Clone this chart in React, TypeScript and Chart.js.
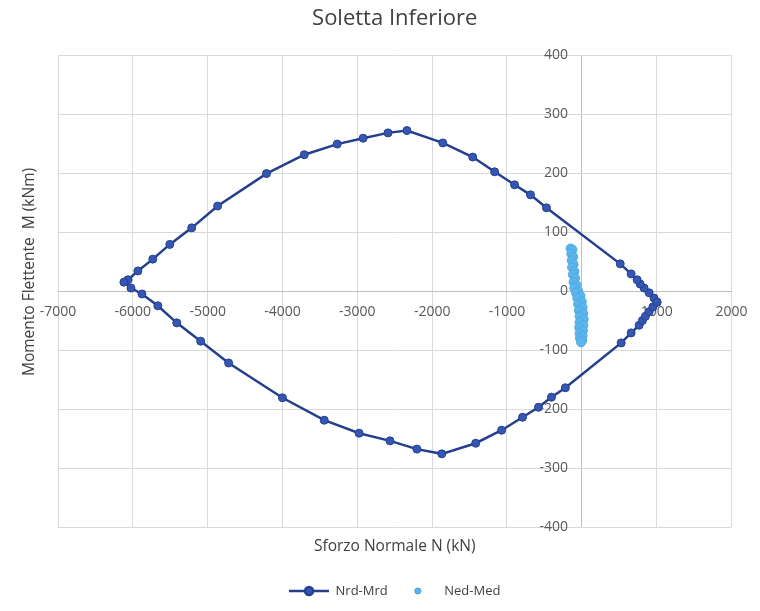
import React, { useEffect, useRef } from "react";
import { Chart, registerables } from "chart.js";

Chart.register(...registerables);

const chartTitle = "Soletta Inferiore";
const xAxisTitle = "Sforzo Normale N (kN)";
const yAxisTitle = "Momento Flettente  M (kNm)";
const seriesNames = ["Nrd-Mrd", "Ned-Med"];

// Resistance domain (Nrd, Mrd) - closed contour
const nrdN = [
  1005, 965, 899, 832, 779, 739, 659, 513, -473, -686, -899, -1165, -1458, -1858,
  -2337, -2590, -2923, -3269, -3709, -4214, -4867, -5213, -5506, -5733, -5932,
  -6065, -6119, -6025, -5878, -5666, -5413, -5093, -4720, -4001, -3442, -2976,
  -2563, -2204, -1871, -1418, -1072, -792, -579, -406, -220, 526, 659, 766, 810,
  850, 900, 950, 1005,
];
const nrdM = [
  -19, -12, -3, 5, 12, 19, 29, 46, 141, 163, 180, 202, 227, 251,
  272, 268, 259, 249, 231, 199, 144, 107, 79, 54, 34,
  19, 15, 5, -5, -25, -54, -85, -122, -181, -219, -241,
  -254, -268, -276, -258, -236, -214, -197, -180, -164, -88, -71, -58, -50,
  -43, -35, -27, -19,
];

// Design actions (Ned, Med)
const nedN = [
  -150, -125, -140, -115, -135, -110, -130, -100, -120, -90, -110, -70, -100, -50,
  -80, -20, -60, 0, -50, 10, -40, 20, -30, 25, -30, 20, -35, 15, -30, 10, -25, 5, -10,
];
const nedM = [
  72, 70, 63, 58, 52, 45, 40, 33, 28, 22, 15, 10, 5, 0,
  -3, -8, -12, -18, -22, -28, -33, -38, -43, -48, -53, -58, -62, -67, -72, -76, -80, -84, -87,
];

const xMin = -7000;
const xMax = 2000;
const xStep = 1000;
const yMin = -400;
const yMax = 400;
const yStep = 100;
const yLabelAnchorN = -186;

const lineColor = "#253F8F";
const pointFill = "#3557B3";
const nedColor = "#5CB5EC";
const textColor = "#404040";
const tickColor = "#595959";
const gridColor = "#D9D9D9";
const zeroLineColor = "#BFBFBF";

function makeLineIcon(): HTMLCanvasElement {
  const c = document.createElement("canvas");
  c.width = 40;
  c.height = 12;
  const g = c.getContext("2d")!;
  g.strokeStyle = lineColor;
  g.lineWidth = 2.5;
  g.beginPath();
  g.moveTo(0, 6);
  g.lineTo(40, 6);
  g.stroke();
  g.fillStyle = pointFill;
  g.beginPath();
  g.arc(20, 6, 4, 0, Math.PI * 2);
  g.fill();
  g.stroke();
  return c;
}

function makeDotIcon(): HTMLCanvasElement {
  const c = document.createElement("canvas");
  c.width = 8;
  c.height = 8;
  const g = c.getContext("2d")!;
  g.fillStyle = nedColor;
  g.strokeStyle = "#3E9AD6";
  g.lineWidth = 1;
  g.beginPath();
  g.arc(4, 4, 3, 0, Math.PI * 2);
  g.fill();
  g.stroke();
  return c;
}

const yTitlePlugin = {
  id: "yTitleText",
  afterDraw(chart: any) {
    const { ctx, chartArea } = chart;
    ctx.save();
    ctx.translate(30, (chartArea.top + chartArea.bottom) / 2 - 19);
    ctx.rotate(-Math.PI / 2);
    ctx.font = "15.5px 'Open Sans'";
    ctx.fillStyle = textColor;
    ctx.textAlign = "center";
    ctx.textBaseline = "middle";
    ctx.fillText(yAxisTitle, 0, 0);
    ctx.restore();
  },
};

export default function App() {
  const ref = useRef<HTMLCanvasElement | null>(null);

  useEffect(() => {
    if (!ref.current) return;
    Chart.defaults.font.family = "'Open Sans', sans-serif";
    const lineIcon = makeLineIcon();
    const dotIcon = makeDotIcon();
    const chart = new Chart(ref.current, {
      type: "scatter",
      data: {
        datasets: [
          {
            label: seriesNames[0],
            data: nrdN.map((n, i) => ({ x: n, y: nrdM[i] })),
            showLine: true,
            borderColor: lineColor,
            borderWidth: 2.5,
            backgroundColor: pointFill,
            pointBackgroundColor: pointFill,
            pointBorderColor: lineColor,
            pointBorderWidth: 1,
            pointRadius: 4,
            tension: 0,
          },
          {
            label: seriesNames[1],
            data: nedN.map((n, i) => ({ x: n, y: nedM[i] })),
            showLine: false,
            backgroundColor: nedColor,
            borderColor: "#4FAAE4",
            pointBackgroundColor: nedColor,
            pointBorderColor: "#4FAAE4",
            pointBorderWidth: 1,
            pointRadius: 4.5,
          },
        ],
      },
      options: {
        animation: false,
        responsive: true,
        maintainAspectRatio: false,
        layout: { padding: { left: 58, right: 27, top: 0, bottom: 3.5 } },
        scales: {
          x: {
            type: "linear",
            min: xMin,
            max: xMax,
            position: { y: 0 } as any,
            grid: {
              color: (c: any) => (c.tick && c.tick.value === 0 ? zeroLineColor : gridColor),
              lineWidth: 1,
              drawTicks: false,
            },
            border: { color: zeroLineColor, width: 1 },
            ticks: {
              stepSize: xStep,
              color: tickColor,
              font: { size: 14 },
              padding: 12.5,
              maxRotation: 0,
              callback: (v: any) => String(v),
            },
          },
          y: {
            type: "linear",
            min: yMin,
            max: yMax,
            position: { x: yLabelAnchorN } as any,
            grid: { color: gridColor, lineWidth: 1, drawTicks: false },
            border: { display: false },
            ticks: {
              stepSize: yStep,
              color: tickColor,
              font: { size: 14 },
              callback: (v: any) => String(v),
            },
          },
        },
        plugins: {
          title: {
            display: true,
            text: chartTitle,
            color: textColor,
            fullSize: false,
            font: { size: 22, weight: "normal" },
            padding: { top: 5.3, bottom: 23.3 },
          },
          subtitle: {
            display: true,
            text: xAxisTitle,
            position: "bottom",
            weight: 500,
            fullSize: false,
            color: textColor,
            font: { size: 15.5, weight: "normal" },
            padding: { top: 10.7, bottom: 18.2 },
          } as any,
          legend: {
            display: true,
            position: "bottom",
            fullSize: false,
            labels: {
              usePointStyle: true,
              pointStyleWidth: 40,
              color: textColor,
              font: { size: 13 },
              padding: 10,
              generateLabels: (ch: any) => {
                const items = Chart.defaults.plugins.legend.labels.generateLabels(ch);
                items.forEach((it: any, i: number) => {
                  it.pointStyle = i === 0 ? lineIcon : dotIcon;
                });
                return items;
              },
            },
          },
          tooltip: { enabled: false },
        },
      },
      plugins: [yTitlePlugin],
    });
    return () => chart.destroy();
  }, []);

  return (
    <div style={{ position: "absolute", left: 0, top: 0, width: 760, height: 611, background: "#fff" }}>
      <canvas ref={ref} />
    </div>
  );
}
